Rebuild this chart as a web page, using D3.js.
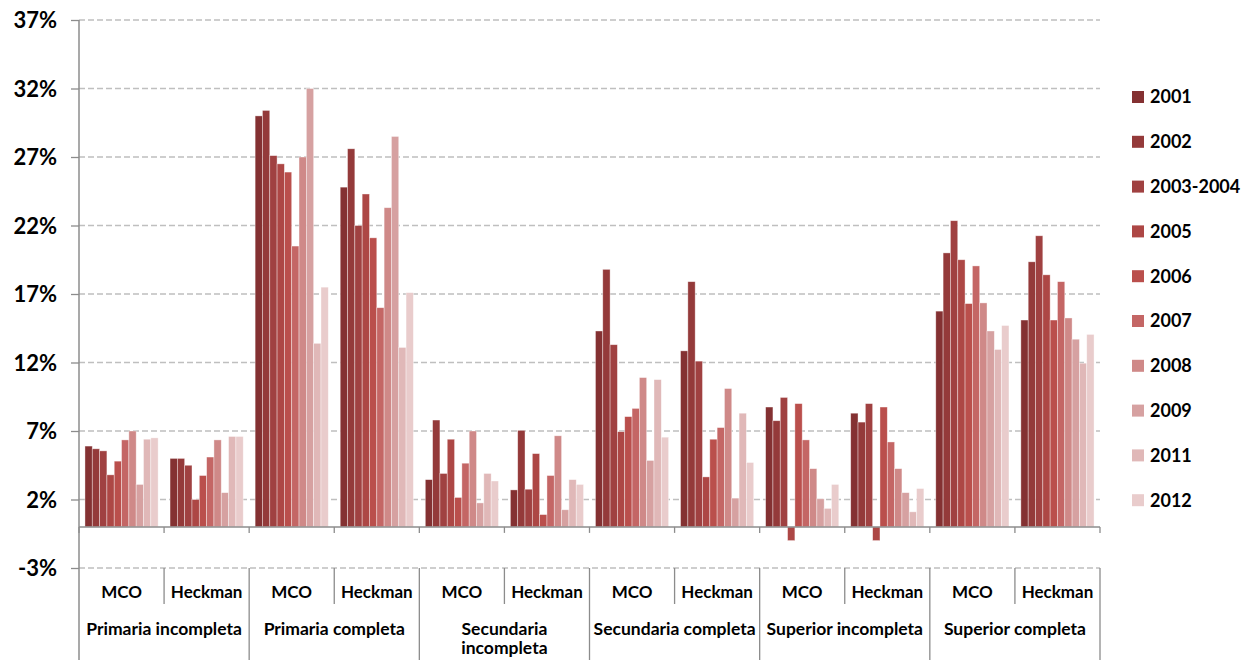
<!DOCTYPE html>
<html>
<head>
<meta charset="utf-8">
<script src="https://cdn.jsdelivr.net/npm/d3@7/dist/d3.min.js"></script>
<style>
  html, body { margin: 0; padding: 0; background: #fff; }
  svg { display: block; font-family: Lato, "Open Sans", sans-serif; }
</style>
</head>
<body>
<svg id="chart" width="1253" height="660"></svg>
<script>
// Education levels, each split in two estimation methods
const categories = ["Primaria incompleta", "Primaria completa", "Secundaria incompleta",
                    "Secundaria completa", "Superior incompleta", "Superior completa"];
const categoryLines = [["Primaria incompleta"], ["Primaria completa"], ["Secundaria", "incompleta"],
                       ["Secundaria completa"], ["Superior incompleta"], ["Superior completa"]];
const methods = ["MCO", "Heckman"];
const years = ["2001", "2002", "2003-2004", "2005", "2006", "2007", "2008", "2009", "2011", "2012"];
const yearColors = ["#843132", "#943a3a", "#a04141", "#ad4745", "#ba4f4c",
                    "#c46665", "#cf8988", "#d6a1a1", "#e0b8b8", "#e9cccc"];

// Returns (%) by year, one array per level and method
const primIncMCO   = [5.9, 5.7, 5.55, 3.8, 4.8, 6.35, 7.0, 3.1, 6.4, 6.5];
const primIncHeck  = [5.0, 5.0, 4.5, 2.0, 3.75, 5.1, 6.35, 2.5, 6.6, 6.6];
const primCompMCO  = [30.0, 30.4, 27.1, 26.5, 25.9, 20.5, 27.0, 32.0, 13.4, 17.5];
const primCompHeck = [24.8, 27.6, 22.0, 24.3, 21.1, 16.0, 23.3, 28.5, 13.1, 17.1];
const secIncMCO    = [3.45, 7.8, 3.9, 6.4, 2.15, 4.65, 7.0, 1.75, 3.9, 3.35];
const secIncHeck   = [2.7, 7.05, 2.75, 5.35, 0.9, 3.75, 6.65, 1.25, 3.45, 3.1];
const secCompMCO   = [14.3, 18.8, 13.3, 6.95, 8.05, 8.65, 10.9, 4.85, 10.75, 6.55];
const secCompHeck  = [12.85, 17.9, 12.1, 3.65, 6.4, 7.25, 10.1, 2.1, 8.3, 4.7];
const supIncMCO    = [8.75, 7.75, 9.45, -1.0, 9.0, 6.35, 4.25, 2.05, 1.35, 3.1];
const supIncHeck   = [8.3, 7.65, 9.0, -1.0, 8.75, 6.2, 4.25, 2.5, 1.1, 2.8];
const supCompMCO   = [15.75, 20.0, 22.35, 19.5, 16.3, 19.05, 16.35, 14.3, 12.95, 14.7];
const supCompHeck  = [15.1, 19.35, 21.25, 18.4, 15.1, 17.9, 15.25, 13.7, 11.95, 14.05];

const yTicks = [-3, 2, 7, 12, 17, 22, 27, 32, 37];

const groupValues = [primIncMCO, primIncHeck, primCompMCO, primCompHeck, secIncMCO, secIncHeck,
                     secCompMCO, secCompHeck, supIncMCO, supIncHeck, supCompMCO, supCompHeck];

// Flat list of sub-groups (level × method)
const subgroups = [];
categories.forEach((c, ci) => methods.forEach((m, mi) => {
  subgroups.push({ id: ci * 2 + mi, category: c, method: m, values: groupValues[ci * 2 + mi] });
}));

const svg = d3.select("#chart");
const plotLeft = 79, plotRight = 1100, plotTop = 20, plotBottom = 660;
const y = d3.scaleLinear().domain([-3, 37]).range([568, plotTop]);
const x0 = d3.scaleBand().domain(subgroups.map(d => d.id)).range([plotLeft, plotRight]).padding(0);
const bw = x0.bandwidth();
const x1 = d3.scaleBand().domain(years).range([bw * 0.07, bw * 0.93]).padding(0);
const color = d3.scaleOrdinal().domain(years).range(yearColors);

const axisColor = "#8c8c8c";

// Dashed horizontal gridlines
svg.append("g").selectAll("line").data(yTicks).join("line")
  .attr("x1", plotLeft).attr("x2", plotRight)
  .attr("y1", d => y(d)).attr("y2", d => y(d))
  .attr("stroke", "#bfbfbf").attr("stroke-width", 1.3).attr("stroke-dasharray", "6,3");

// Y axis with outward ticks and percent labels
const yAxis = d3.axisLeft(y).tickValues(yTicks).tickSize(8).tickFormat(d => d + "%");
const gy = svg.append("g").attr("transform", `translate(${plotLeft},0)`).call(yAxis);
gy.select(".domain").remove();
gy.selectAll(".tick line").attr("stroke", axisColor).attr("stroke-width", 1.3);
gy.selectAll(".tick text")
  .attr("x", -22).attr("dy", "0.36em")
  .attr("font-size", 22).attr("font-weight", 700).attr("fill", "#000")
  .attr("font-family", "Lato, sans-serif");

// Bars
const groups = svg.append("g").selectAll("g").data(subgroups).join("g")
  .attr("transform", d => `translate(${x0(d.id)},0)`);
groups.selectAll("rect")
  .data(d => d.values.map((v, i) => ({ year: years[i], value: v })))
  .join("rect")
  .attr("x", d => x1(d.year))
  .attr("width", x1.bandwidth())
  .attr("y", d => y(Math.max(0, d.value)))
  .attr("height", d => Math.abs(y(d.value) - y(0)))
  .attr("fill", d => color(d.year))
  .attr("stroke", "#fff").attr("stroke-opacity", 0.55).attr("stroke-width", 0.7);

// Left axis line through the label table
svg.append("line").attr("x1", plotLeft).attr("x2", plotLeft).attr("y1", plotTop).attr("y2", plotBottom)
  .attr("stroke", axisColor).attr("stroke-width", 1.5);

// Zero baseline with category ticks
svg.append("line").attr("x1", plotLeft).attr("x2", plotRight).attr("y1", y(0)).attr("y2", y(0))
  .attr("stroke", axisColor).attr("stroke-width", 1.5);
const boundaries = d3.range(subgroups.length + 1).map(i => plotLeft + i * bw);
svg.append("g").selectAll("line").data(boundaries).join("line")
  .attr("x1", d => d).attr("x2", d => d)
  .attr("y1", y(0)).attr("y2", y(0) + 6)
  .attr("stroke", axisColor).attr("stroke-width", 1.3);

// Category table: method dividers (short) and level dividers (full height)
svg.append("g").selectAll("line").data(boundaries.slice(1)).join("line")
  .attr("x1", d => d).attr("x2", d => d)
  .attr("y1", y(-3))
  .attr("y2", (d, i) => (i % 2 === 0 ? 604 : plotBottom))
  .attr("stroke", axisColor).attr("stroke-width", 1.3);

// Method labels
svg.append("g").selectAll("text").data(subgroups).join("text")
  .attr("x", d => x0(d.id) + bw / 2).attr("y", 592)
  .attr("dy", "0.36em").attr("text-anchor", "middle")
  .attr("font-size", 17).attr("font-weight", 700).attr("fill", "#000")
  .text(d => d.method);

// Level labels
const catText = svg.append("g").selectAll("text").data(categories).join("text")
  .attr("x", (d, i) => plotLeft + (i * 2 + 1) * bw).attr("y", 629)
  .attr("text-anchor", "middle")
  .attr("font-size", 17.5).attr("font-weight", 700).attr("fill", "#000");
catText.selectAll("tspan").data((d, i) => categoryLines[i]).join("tspan")
  .attr("x", function () { return d3.select(this.parentNode).attr("x"); })
  .attr("dy", (d, i) => (i === 0 ? "0.36em" : "1.08em"))
  .text(d => d);

// Legend
const legend = svg.append("g").selectAll("g").data(years).join("g")
  .attr("transform", (d, i) => `translate(1132,${97 + i * 44.8})`);
legend.append("rect").attr("x", 0).attr("y", -6).attr("width", 12).attr("height", 12)
  .attr("fill", d => color(d));
legend.append("text").attr("x", 18).attr("y", 0).attr("dy", "0.36em")
  .attr("font-size", 18).attr("font-weight", 700).attr("fill", "#000")
  .text(d => d);
</script>
</body>
</html>
